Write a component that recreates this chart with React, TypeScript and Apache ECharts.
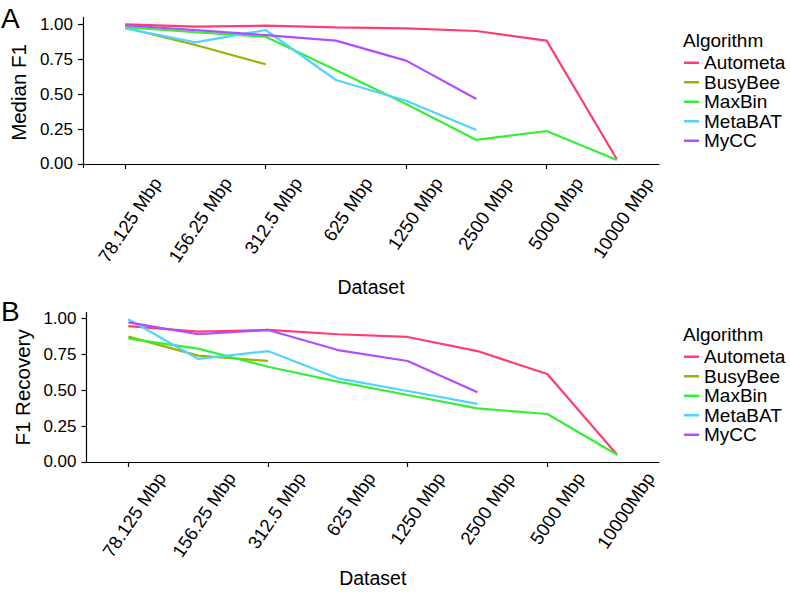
import React, { useEffect, useRef } from "react";
import * as echarts from "echarts";

const categories = ["78.125 Mbp", "156.25 Mbp", "312.5 Mbp", "625 Mbp", "1250 Mbp", "2500 Mbp", "5000 Mbp", "10000 Mbp"];
const labelsTop = ["78.125 Mbp", "156.25 Mbp", "312.5 Mbp", "625 Mbp", "1250 Mbp", "2500 Mbp", "5000 Mbp", "10000 Mbp"];
const labelsBottom = ["78.125 Mbp", "156.25 Mbp", "312.5 Mbp", "625 Mbp", "1250 Mbp", "2500 Mbp", "5000 Mbp", "10000Mbp"];
const algorithms = ["Autometa", "BusyBee", "MaxBin", "MetaBAT", "MyCC"];
const colors = ["#FF3D6E", "#9BB400", "#36EE36", "#4FD4FF", "#B14DFF"];
const yTicks = [0, 0.25, 0.5, 0.75, 1];

const medianF1: (number | null)[][] = [
  [1.0, 0.983, 0.99, 0.978, 0.971, 0.952, 0.883, 0.034],
  [0.975, 0.852, 0.714, null, null, null, null, null],
  [0.98, 0.943, 0.911, 0.673, 0.43, 0.172, 0.236, 0.029],
  [0.971, 0.871, 0.959, 0.601, 0.453, 0.243, null, null],
  [0.993, 0.958, 0.923, 0.883, 0.74, 0.465, null, null],
];
const f1Recovery: (number | null)[][] = [
  [0.946, 0.907, 0.919, 0.889, 0.87, 0.772, 0.612, 0.05],
  [0.872, 0.74, 0.703, null, null, null, null, null],
  [0.858, 0.789, 0.663, 0.559, 0.466, 0.373, 0.334, 0.05],
  [0.993, 0.717, 0.772, 0.582, 0.494, 0.404, null, null],
  [0.972, 0.889, 0.919, 0.779, 0.703, 0.485, null, null],
];

const FONT = "Liberation Sans, Arial, Helvetica, sans-serif";

function panel(
  idx: number,
  frame: { left: number; top: number; width: number; height: number },
  yMin: number,
  yMax: number,
  yName: string,
  labels: string[],
  values: (number | null)[][],
  labelDx: number,
  xNameGap: number
) {
  const unit = frame.width / 8.2;
  const dataLeft = frame.left + 0.6 * unit;
  const dataWidth = 7 * unit;
  const g0 = idx * 3;
  const grids = [
    { left: frame.left, top: frame.top, width: frame.width, height: frame.height },
    { left: dataLeft, top: frame.top, width: dataWidth, height: frame.height },
    { left: dataLeft + labelDx, top: frame.top, width: dataWidth, height: frame.height },
  ];
  const xAxes = [
    {
      gridIndex: g0, type: "value", min: 0, max: 1,
      axisLine: { show: true, lineStyle: { color: "#000", width: 1.2 } },
      axisTick: { show: false }, axisLabel: { show: false }, splitLine: { show: false },
      name: "Dataset", nameLocation: "middle", nameGap: xNameGap,
      nameTextStyle: { fontFamily: FONT, fontSize: 19.5, color: "#000" },
    },
    {
      gridIndex: g0 + 1, type: "category", boundaryGap: false, data: categories,
      axisLine: { show: false },
      axisTick: { show: true, length: 5, lineStyle: { color: "#000", width: 1.2 } },
      axisLabel: { show: false }, splitLine: { show: false },
    },
    {
      gridIndex: g0 + 2, type: "category", boundaryGap: false, data: labels,
      axisLine: { show: false }, axisTick: { show: false },
      axisLabel: { show: true, rotate: 56, margin: 12, interval: 0, fontFamily: FONT, fontSize: 18.5, color: "#000" },
      splitLine: { show: false },
    },
  ];
  const yAxes = [
    {
      gridIndex: g0, type: "value", min: yMin, max: yMax,
      axisLine: { show: true, lineStyle: { color: "#000", width: 1.2 } },
      axisTick: { show: true, length: 5, customValues: yTicks, lineStyle: { color: "#000", width: 1.2 } },
      axisLabel: {
        show: true, customValues: yTicks, margin: 10, fontFamily: FONT, fontSize: 17, color: "#000",
        formatter: (v: number) => v.toFixed(2),
      },
      splitLine: { show: false },
      name: yName, nameLocation: "middle", nameGap: 52,
      nameTextStyle: { fontFamily: FONT, fontSize: 20.5, color: "#000" },
    },
    { gridIndex: g0 + 1, type: "value", min: yMin, max: yMax, show: false },
    { gridIndex: g0 + 2, type: "value", min: yMin, max: yMax, show: false },
  ];
  const series = algorithms.map((name, i) => ({
    name, type: "line", xAxisIndex: g0 + 1, yAxisIndex: g0 + 1,
    data: values[i], showSymbol: false, symbol: "none", connectNulls: false,
    lineStyle: { color: colors[i], width: 2.2 }, itemStyle: { color: colors[i] },
    z: 3,
  }));
  return { grids, xAxes, yAxes, series };
}

export default function App() {
  const ref = useRef<HTMLDivElement>(null);
  useEffect(() => {
    if (!ref.current) return;
    const chart = echarts.init(ref.current, null, { renderer: "svg" });
    const top = panel(0, { left: 83, top: 17.45, width: 576, height: 150.0 }, -0.025, 1.049, "Median F1", labelsTop, medianF1, 32, 110);
    const bot = panel(1, { left: 86.5, top: 312.55, width: 572.5, height: 149.7 }, -0.002, 1.04, "F1 Recovery", labelsBottom, f1Recovery, 33, 106);
    const legendBase = {
      orient: "vertical", left: 679, itemWidth: 15, itemHeight: 2.5, itemGap: 0, icon: "rect",
      data: algorithms, selectedMode: false,
      textStyle: { fontFamily: FONT, fontSize: 19, color: "#000", lineHeight: 19.5 },
    };
    const letterStyle = { fontFamily: FONT, fontSize: 28, fontWeight: "normal", color: "#000" };
    const legendTitleStyle = { fontFamily: FONT, fontSize: 19, fontWeight: "normal", color: "#000" };
    const option: any = {
      animation: false,
      backgroundColor: "#fff",
      textStyle: { fontFamily: FONT },
      title: [
        { text: "A", left: -4, top: -1, textStyle: letterStyle },
        { text: "B", left: -4, top: 292, textStyle: letterStyle },
        { text: "Algorithm", left: 678, top: 26, textStyle: legendTitleStyle },
        { text: "Algorithm", left: 678, top: 320, textStyle: legendTitleStyle },
      ],
      legend: [
        { ...legendBase, top: 48 },
        { ...legendBase, top: 342 },
      ],
      grid: [...top.grids, ...bot.grids],
      xAxis: [...top.xAxes, ...bot.xAxes],
      yAxis: [...top.yAxes, ...bot.yAxes],
      series: [...top.series, ...bot.series],
    };
    chart.setOption(option);
    return () => chart.dispose();
  }, []);
  return <div ref={ref} style={{ position: "fixed", left: 0, top: 0, width: 790, height: 598 }} />;
}
